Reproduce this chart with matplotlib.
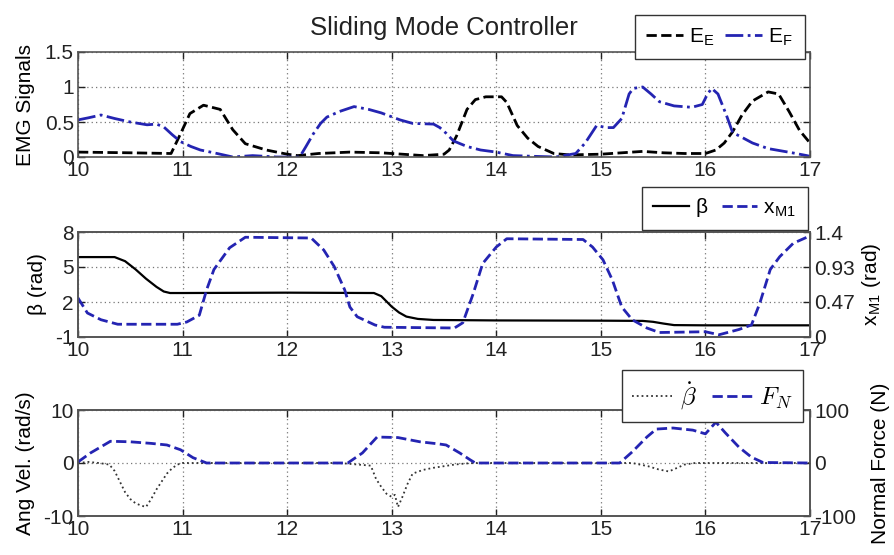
import matplotlib
matplotlib.use("Agg")
import matplotlib.pyplot as plt
from matplotlib import font_manager
import numpy as np

_names = {f.name for f in font_manager.fontManager.ttflist}
MAIN = 'Liberation Sans Narrow' if 'Liberation Sans Narrow' in _names else 'Liberation Sans'
plt.rcParams['font.family'] = [MAIN, 'Liberation Sans', 'DejaVu Sans']
plt.rcParams['mathtext.fontset'] = 'cm'
plt.rcParams['axes.unicode_minus'] = False

# ---------------- data ----------------
# Panel 1: EMG signals
t_ee = [10.0, 10.5, 10.89, 10.98, 11.07, 11.2, 11.36, 11.48, 11.6, 11.8, 12.0, 12.1, 12.3, 12.6,
        12.9, 13.1, 13.3, 13.5, 13.55, 13.62, 13.72, 13.8, 13.9, 14.05, 14.1, 14.2, 14.3, 14.4,
        14.55, 14.7, 15.0, 15.2, 15.4, 15.6, 15.8, 16.0, 16.1, 16.18, 16.26, 16.35, 16.45, 16.6,
        16.7, 16.8, 16.9, 17.0]
e_E = [0.07, 0.06, 0.05, 0.33, 0.62, 0.74, 0.68, 0.39, 0.19, 0.1, 0.04, 0.02, 0.05, 0.07,
       0.06, 0.04, 0.02, 0.04, 0.1, 0.3, 0.68, 0.82, 0.86, 0.86, 0.78, 0.45, 0.27, 0.15,
       0.05, 0.03, 0.04, 0.06, 0.08, 0.06, 0.05, 0.05, 0.1, 0.2, 0.36, 0.6, 0.8, 0.93,
       0.9, 0.65, 0.38, 0.2]
t_ef = [10.0, 10.1, 10.22, 10.35, 10.5, 10.66, 10.75, 10.82, 10.9, 10.98, 11.08, 11.17, 11.3,
        11.48, 11.67, 11.9, 12.12, 12.18, 12.25, 12.32, 12.38, 12.5, 12.64, 12.78, 12.9, 13.08,
        13.2, 13.4, 13.46, 13.52, 13.59, 13.72, 13.85, 14.0, 14.16, 14.35, 14.57, 14.76, 14.85,
        14.96, 15.05, 15.12, 15.2, 15.27, 15.31, 15.4, 15.48, 15.56, 15.7, 15.87, 15.97, 16.02,
        16.06, 16.12, 16.2, 16.26, 16.35, 16.45, 16.6, 16.83, 16.97, 17.0]
e_F = [0.53, 0.56, 0.6, 0.55, 0.5, 0.46, 0.47, 0.43, 0.32, 0.22, 0.15, 0.1, 0.06,
       0.0, 0.02, 0.0, 0.0, 0.15, 0.33, 0.48, 0.57, 0.65, 0.72, 0.68, 0.63, 0.53,
       0.48, 0.47, 0.42, 0.34, 0.23, 0.15, 0.1, 0.07, 0.02, 0.01, 0.0, 0.05, 0.2,
       0.45, 0.42, 0.42, 0.55, 0.9, 0.98, 1.0, 0.9, 0.79, 0.73, 0.71, 0.75, 0.9,
       0.98, 0.9, 0.6, 0.35, 0.28, 0.2, 0.12, 0.06, 0.02, 0.01]

# Panel 2: beta (rad, left) and x_M1 (rad, right)
t_beta = [10.0, 10.35, 10.45, 10.55, 10.65, 10.75, 10.82, 10.88, 11.0, 12.0, 12.83, 12.9, 13.0,
          13.07, 13.14, 13.25, 13.4, 14.0, 15.0, 15.4, 15.5, 15.6, 15.7, 16.0, 17.0]
beta = [5.85, 5.85, 5.5, 4.8, 4.0, 3.3, 2.9, 2.77, 2.77, 2.8, 2.77, 2.5, 1.6,
        1.1, 0.75, 0.55, 0.46, 0.42, 0.4, 0.38, 0.3, 0.15, 0.02, 0.0, 0.0]
t_xm1 = [10.0, 10.09, 10.22, 10.38, 10.95, 11.04, 11.16, 11.23, 11.3, 11.45, 11.6, 12.23, 12.35,
         12.45, 12.55, 12.6, 12.67, 12.84, 12.93, 13.6, 13.68, 13.78, 13.87, 14.0, 14.1, 14.83,
         14.92, 15.02, 15.11, 15.2, 15.3, 15.44, 15.56, 16.0, 16.13, 16.32, 16.44, 16.52, 16.62,
         16.71, 16.84, 16.97, 17.0]
x_m1 = [0.52, 0.32, 0.23, 0.17, 0.17, 0.2, 0.29, 0.63, 0.9, 1.19, 1.33, 1.32, 1.16,
        0.94, 0.63, 0.4, 0.27, 0.16, 0.13, 0.12, 0.19, 0.58, 0.98, 1.2, 1.31, 1.3,
        1.2, 1.03, 0.76, 0.4, 0.23, 0.12, 0.06, 0.07, 0.03, 0.1, 0.16, 0.45, 0.9,
        1.07, 1.25, 1.33, 1.33]

# Panel 3: angular velocity (rad/s, left) and normal force (N, right)
t_bdot = [10.0, 10.1, 10.2, 10.3, 10.35, 10.4, 10.45, 10.5, 10.55, 10.6, 10.65, 10.7, 10.75, 10.8,
          10.85, 10.9, 10.95, 11.0, 11.5, 12.0, 12.5, 12.8, 12.85, 12.9, 12.95, 13.0, 13.03, 13.06,
          13.1, 13.15, 13.2, 13.3, 13.4, 13.5, 13.6, 13.7, 13.8, 14.5, 15.3, 15.45, 15.55, 15.65,
          15.72, 15.8, 15.9, 16.5, 17.0]
bdot = [0.0, 0.2, 0.0, -0.3, -1.5, -3.5, -5.5, -6.8, -7.6, -8.0, -8.3, -6.8, -5.0, -3.5,
        -2.0, -1.0, -0.3, 0.0, 0.0, 0.0, 0.0, -0.5, -3.0, -4.5, -5.8, -6.4, -6.0, -8.3,
        -6.5, -4.0, -2.0, -1.3, -0.9, -0.6, -0.3, -0.1, 0.0, 0.0, 0.0, -0.6, -1.2, -1.6,
        -1.0, -0.3, 0.0, 0.0, 0.0]
t_fn = [10.0, 10.12, 10.31, 10.5, 10.7, 10.85, 10.98, 11.1, 11.23, 12.0, 12.58, 12.72, 12.86,
        13.06, 13.27, 13.45, 13.52, 13.65, 13.75, 13.8, 14.5, 15.18, 15.3, 15.44, 15.53, 15.69,
        15.88, 16.0, 16.1, 16.19, 16.32, 16.44, 16.55, 17.0]
f_n = [2, 19, 41, 40, 37, 34, 25, 10, 0, 0, 0, 19, 49, 48, 40, 36, 34, 19, 6, 0, 0, 0, 21, 49,
       64, 66, 62, 55, 77, 57, 30, 11, 1, 0]

x_ticks = [10, 11, 12, 13, 14, 15, 16, 17]
emg_ticks = [0, 0.5, 1, 1.5]
emg_labels = ['0', '0.5', '1', '1.5']
beta_ticks = [-1, 2, 5, 8]
xm1_ticks = [0, 0.47, 0.93, 1.4]
xm1_labels = ['0', '0.47', '0.93', '1.4']
vel_ticks = [-10, 0, 10]
fn_ticks = [-100, 0, 100]

# ---------------- styling ----------------
BLUE = '#2424b2'
FS = 18 if MAIN.endswith('Narrow') else 15
LFS = 17 if MAIN.endswith('Narrow') else 15
SPINE = '#555555'

fig = plt.figure(figsize=(8.94, 5.55), dpi=100)
L, W = 78 / 894, 732 / 894
ax1 = fig.add_axes([L, 1 - 157 / 555, W, 105 / 555])
ax2 = fig.add_axes([L, 1 - 337 / 555, W, 105 / 555])
ax3 = fig.add_axes([L, 1 - 516 / 555, W, 106 / 555])


def style(ax, right=True):
    for s in ax.spines.values():
        s.set_color(SPINE)
        s.set_linewidth(1.2)
    ax.tick_params(direction='in', length=5, width=1, colors='#222222', labelsize=FS,
                   top=True, right=right, pad=3)
    ax.tick_params(axis='x', pad=3)
    ax.set_xlim(10, 17)
    ax.set_xticks(x_ticks)
    ax.grid(True, linestyle=(0, (1, 2.5)), color='#777777', linewidth=0.9)


def style_twin(ax):
    for s in ax.spines.values():
        s.set_color(SPINE)
        s.set_linewidth(1.2)
    ax.tick_params(direction='in', length=5, width=1, colors='#222222', labelsize=FS, pad=3)


def leg_style(leg):
    fr = leg.get_frame()
    fr.set_edgecolor('#333333')
    fr.set_linewidth(1.0)
    fr.set_facecolor('white')
    fr.set_alpha(1)
    leg.set_zorder(20)


# ---- panel 1 ----
style(ax1)
l1, = ax1.plot(t_ee, e_E, color='black', linestyle='--', linewidth=2.0, label=r'E$_{\mathregular{E}}$')
l2, = ax1.plot(t_ef, e_F, color=BLUE, linestyle='-.', linewidth=2.0, label=r'E$_{\mathregular{F}}$')
ax1.set_ylim(0, 1.5)
ax1.set_yticks(emg_ticks)
ax1.set_yticklabels(emg_labels)
ax1.set_ylabel('EMG Signals', fontsize=FS, labelpad=7)
ax1.set_title('Sliding Mode Controller', fontsize=18.5, pad=12, color='#222222',
              family=['Liberation Sans', 'DejaVu Sans'])
leg1 = ax1.legend(handles=[l1, l2], loc='upper right', bbox_to_anchor=(0.993, 1.352),
                  ncol=2, fontsize=LFS, fancybox=False, borderaxespad=0, handlelength=1.75,
                  handletextpad=0.3, columnspacing=0.5, borderpad=0.55, framealpha=1)
leg_style(leg1)

# ---- panel 2 ----
style(ax2, right=False)
ax2r = ax2.twinx()
style_twin(ax2r)
ax2.set_xlim(10, 17)
l3, = ax2.plot(t_beta, beta, color='black', linestyle='-', linewidth=1.6, label='β')
l4, = ax2r.plot(t_xm1, x_m1, color=BLUE, linestyle='--', linewidth=2.0, label=r'x$_{\mathregular{M1}}$')
ax2.set_ylim(-1, 8)
ax2.set_yticks(beta_ticks)
ax2r.set_ylim(0, 1.4)
ax2r.set_yticks(xm1_ticks)
ax2r.set_yticklabels(xm1_labels)
ax2.set_ylabel('β (rad)', fontsize=FS, labelpad=6)
ax2r.set_ylabel(r'x$_{\mathregular{M1}}$ (rad)', fontsize=FS, labelpad=4)
leg2 = ax2r.legend(handles=[l3, l4], loc='upper right', bbox_to_anchor=(0.997, 1.43),
                   ncol=2, fontsize=LFS, fancybox=False, borderaxespad=0, handlelength=1.7,
                   handletextpad=0.3, columnspacing=0.7, borderpad=0.55, framealpha=1)
leg_style(leg2)

# ---- panel 3 ----
style(ax3, right=False)
ax3r = ax3.twinx()
style_twin(ax3r)
ax3.set_xlim(10, 17)
l5, = ax3.plot(t_bdot, bdot, color='#333333', linestyle=':', linewidth=1.3, label=r'$\dot{\beta}$')
l6, = ax3r.plot(t_fn, f_n, color=BLUE, linestyle='--', linewidth=2.0, label=r'$F_N$')
ax3.set_ylim(-10, 10)
ax3.set_yticks(vel_ticks)
ax3r.set_ylim(-100, 100)
ax3r.set_yticks(fn_ticks)
ax3.set_ylabel('Ang Vel. (rad/s)', fontsize=FS, labelpad=6)
ax3r.set_ylabel('Normal Force (N)', fontsize=FS, labelpad=11)
leg3 = ax3r.legend(handles=[l5, l6], loc='upper right', bbox_to_anchor=(0.99, 1.377),
                   ncol=2, fontsize=18, fancybox=False, borderaxespad=0, handlelength=1.6,
                   handletextpad=0.3, columnspacing=0.6, borderpad=0.4, framealpha=1)
leg_style(leg3)

fig.savefig('out.png', dpi=100)
